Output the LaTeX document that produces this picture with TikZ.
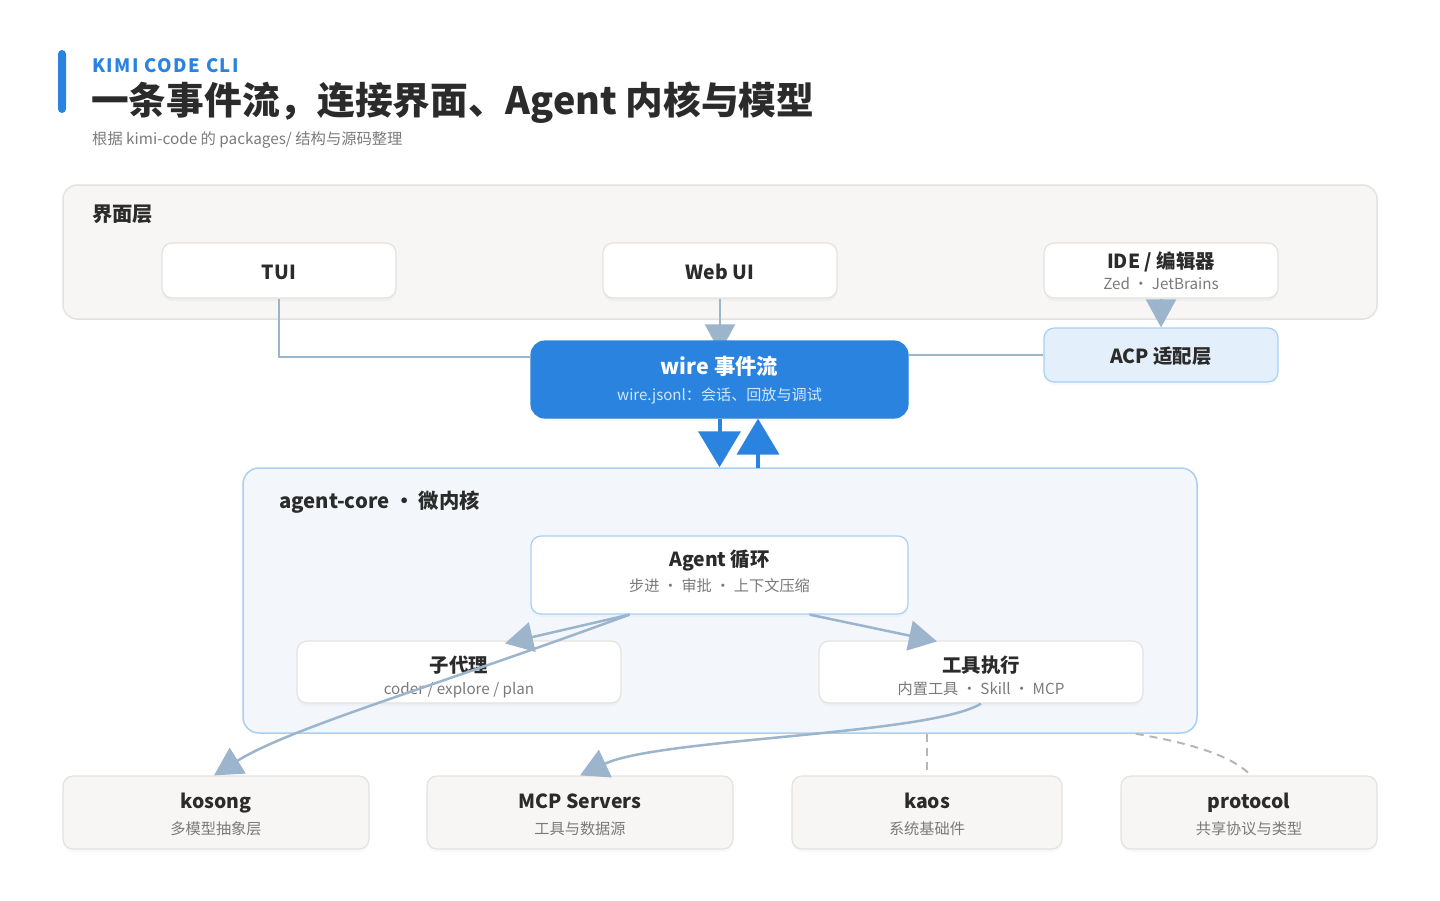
\documentclass[tikz,border=0pt]{standalone}
\usepackage{fontspec}
\setmainfont{Noto Sans CJK SC}
\newfontfamily\spacedfont[LetterSpace=8]{Noto Sans CJK SC}
\usepackage{xcolor}
\usepackage{tikz}
\usetikzlibrary{positioning, arrows.meta, calc, backgrounds, shadows}

\definecolor{accent}{HTML}{2A84DF}
\definecolor{ink}{HTML}{2B2B2B}
\definecolor{subink}{HTML}{7A7A7A}
\definecolor{panelfill}{HTML}{F7F6F4}
\definecolor{panelline}{HTML}{E4E2DF}
\definecolor{corefill}{HTML}{F3F7FB}
\definecolor{coreline}{HTML}{A9D0F2}
\definecolor{acpfill}{HTML}{E3EFFA}
\definecolor{flowline}{HTML}{9CB4CC}
\definecolor{depline}{HTML}{B8B6B3}
\definecolor{wiresub}{HTML}{D3E6F9}

\pgfdeclarelayer{edges}
\pgfsetlayers{background,edges,main}

\begin{document}
\begin{tikzpicture}[x=1pt,y=-1pt,
    panel/.style={draw=panelline, line width=1.5pt, fill=panelfill, rounded corners=14pt},
    card/.style={draw=panelline, line width=1.2pt, fill=white, rounded corners=10pt,
      minimum width=234pt, minimum height=55pt,
      drop shadow={shadow xshift=0pt, shadow yshift=-3pt, opacity=0.05}},
    pkg/.style={card, fill=panelfill, minimum height=73pt, drop shadow={opacity=0}},
    cardname/.style={anchor=base, inner sep=0pt, text=ink, font=\fontsize{19.4}{22}\selectfont\bfseries},
    cardnote/.style={anchor=base, inner sep=0pt, text=subink, font=\fontsize{15.2}{18}\selectfont},
    layername/.style={anchor=base west, inner sep=0pt, text=ink, font=\fontsize{20.3}{24}\selectfont\bfseries},
    flow/.style={draw=flowline, line width=2.5pt, -{Triangle[length=28pt,width=30pt]}},
    plain/.style={draw=flowline, line width=2.5pt},
    wireflow/.style={draw=accent, line width=4pt, -{Triangle[length=36pt,width=42pt]}},
    dep/.style={draw=depline, line width=2pt, dash pattern=on 8pt off 6pt}]
  \useasboundingbox (0,0) rectangle (1440,900);

  % Heading
  \fill[accent, rounded corners=4pt] (58,50) rectangle (66,113);
  \node[anchor=base west, inner sep=0pt, text=accent, font=\spacedfont\fontsize{18.5}{20}\selectfont\bfseries] (kicker) at (92,72) {KIMI CODE CLI};
  \node[anchor=base west, inner sep=0pt, text=ink, font=\fontsize{37.7}{44}\selectfont\bfseries] (headline) at (91,114) {一条事件流，连接界面、Agent 内核与模型};
  \node[anchor=base west, inner sep=0pt, text=subink, font=\fontsize{15.3}{18}\selectfont] (source) at (92,144) {根据 kimi-code 的 packages/ 结构与源码整理};

  % Layers
  \begin{scope}[on background layer]
    \node[panel, minimum width=1314pt, minimum height=134pt] (uilayer) at (720,252) {};
    \node[panel, draw=coreline, fill=corefill, rounded corners=16pt, minimum width=954pt, minimum height=265pt] (core) at (720,600.5) {};
  \end{scope}
  \node[layername] (uilabel) at (92,221) {界面层};
  \node[layername] (corelabel) at (279,508) {agent-core ・ 微内核};

  % Front ends
  \node[card] (tui) at (279,270.5) {};
  \node[cardname] (tuiname) at (279,279.2) {TUI};
  \node[card] (web) at (720,270.5) {};
  \node[cardname] (webname) at (720,279.2) {Web UI};
  \node[card] (ide) at (1161,270.5) {};
  \node[cardname] (idename) at (1161,268.3) {IDE / 编辑器};
  \node[cardnote] (idenote) at (1161,289) {Zed ・ JetBrains};
  \node[card, draw=coreline, fill=acpfill, minimum height=54pt] (acp) at (1161,355) {};
  \node[cardname] (acpname) at (1161,363.5) {ACP 适配层};

  % Event stream
  \node[card, draw=accent, fill=accent, rounded corners=14pt, minimum width=377pt, minimum height=77pt] (wire) at (719.5,379.5) {};
  \node[cardname, text=white, font=\fontsize{21.4}{24}\selectfont\bfseries] (wirename) at (719.5,374.4) {wire 事件流};
  \node[cardnote, text=wiresub, font=\fontsize{15.1}{18}\selectfont] (wirenote) at (719.5,400) {wire.jsonl：会话、回放与调试};

  % Core
  \node[card, draw=coreline, minimum width=377pt, minimum height=78pt] (loop) at (719.5,575) {};
  \node[cardname] (loopname) at (719.5,566.2) {Agent 循环};
  \node[cardnote] (loopnote) at (719.5,591.5) {步进 ・ 审批 ・ 上下文压缩};
  \node[card, minimum width=324pt, minimum height=62pt] (subagent) at (459,672) {};
  \node[cardname] (subagentname) at (459,672) {子代理};
  \node[cardnote] (subagentnote) at (459,694) {coder / explore / plan};
  \node[card, minimum width=324pt, minimum height=62pt] (tools) at (981,672) {};
  \node[cardname] (toolsname) at (981,672) {工具执行};
  \node[cardnote] (toolsnote) at (981,694) {内置工具 ・ Skill ・ MCP};

  % Packages
  \foreach \pkgkey/\x/\w/\pkgname/\pkgnote in {kosong/216/306/kosong/多模型抽象层, mcp/580/306/MCP Servers/工具与数据源,
      kaos/927/270/kaos/系统基础件, protocol/1249/256/protocol/共享协议与类型} {
    \node[pkg, minimum width=\w pt] (\pkgkey) at (\x,812.5) {};
    \node[cardname] (\pkgkey name) at (\x,808.7) {\pkgname};
    \node[cardnote] (\pkgkey note) at (\x,834.1) {\pkgnote};
  }

  % Connectors
  \coordinate (tuiin) at (531,357);
  \coordinate (upfoot) at (758,468);
  \draw[plain] (tui.south) |- (tuiin);
  \begin{pgfonlayer}{edges}
    \draw[flow, shorten >=-12pt] (web.south) -- (web.south |- wire.north);
  \end{pgfonlayer}
  \draw[flow] (ide.south) -- (acp.north);
  \draw[plain] (acp.west) -- (wire.east |- acp.west);
  \draw[wireflow] (wire.south) -- (wire.south |- core.north);
  \draw[wireflow] (upfoot) -- (upfoot |- wire.south);

  \draw[flow] ([xshift=-90pt]loop.south) -- ([xshift=46pt,yshift=-3pt]subagent.north);
  \draw[flow] ([xshift=90pt]loop.south) -- ([xshift=-44pt,yshift=-1pt]tools.north);
  \draw[flow] ([xshift=-90pt]loop.south) .. controls (430,688) and (290,728) .. ([xshift=-2pt]kosong.north);
  \draw[flow] (tools.south) .. controls (930,735) and (660,738) .. (mcp.north);

  \draw[dep] (kaos.north |- core.south) -- ([yshift=4pt]kaos.north);
  \draw[dep] ([xshift=-62pt]core.south east) .. controls (1195,744) and (1230,756) .. ([yshift=2pt]protocol.north);
\end{tikzpicture}
\end{document}
